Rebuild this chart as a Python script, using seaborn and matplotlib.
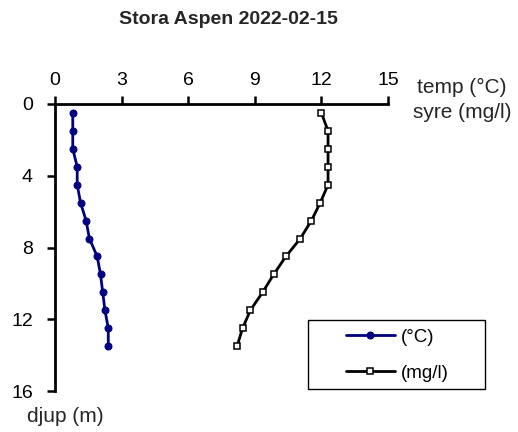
import numpy as np
import pandas as pd
import matplotlib.pyplot as plt
import seaborn as sns
from matplotlib.patches import Rectangle

depth = [0.5, 1.5, 2.5, 3.5, 4.5, 5.5, 6.5, 7.5, 8.5, 9.5, 10.5, 11.5, 12.5, 13.5]
temp = [0.8, 0.8, 0.8, 1.0, 1.0, 1.15, 1.4, 1.55, 1.9, 2.05, 2.15, 2.25, 2.4, 2.4]
oxygen = [12.0, 12.3, 12.3, 12.3, 12.3, 11.95, 11.55, 11.05, 10.4, 9.85, 9.35, 8.8, 8.45, 8.2]

df = pd.DataFrame({"djup": depth, "temp": temp, "syre": oxygen})

sns.set_style("white")
plt.rcParams["font.family"] = ["Liberation Sans", "DejaVu Sans"]

W, H = 518, 432
fig = plt.figure(figsize=(W / 100, H / 100), dpi=100)
ax = fig.add_axes([55 / W, 1 - 391 / H, 333 / W, 287 / H])

sns.lineplot(data=df, x="temp", y="djup", orient="y", sort=False, ax=ax,
             color="#000080", marker="o", markersize=5, markeredgecolor="#000080",
             linewidth=2, label="(°C)")
sns.lineplot(data=df, x="syre", y="djup", orient="y", sort=False, ax=ax,
             color="black", marker="s", markersize=5, markerfacecolor="white",
             markeredgecolor="black", markeredgewidth=1.1, linewidth=2, label="(mg/l)")

ax.set_xlim(0, 15)
ax.set_ylim(16, 0)
ax.set_xticks([0, 3, 6, 9, 12, 15])
ax.set_yticks([0, 4, 8, 12, 16])
ax.xaxis.tick_top()
ax.tick_params(axis="both", which="both", direction="out", length=6, width=1.8,
               labelsize=14, colors="black", top=True, left=True, bottom=False, right=False)
ax.tick_params(axis="x", pad=5)
ax.tick_params(axis="y", pad=10)
for side in ["right", "bottom"]:
    ax.spines[side].set_visible(False)
for side in ["top", "left"]:
    ax.spines[side].set_visible(True)
    ax.spines[side].set_linewidth(2)
    ax.spines[side].set_color("black")
ax.set_xlabel("")
ax.set_ylabel("")

fig.text(228 / W, 1 - 20 / H, "Stora Aspen 2022-02-15", ha="center", va="center",
         fontsize=14, fontweight="bold")
fig.text(462 / W, 1 - 100 / H, "temp (°C)\nsyre (mg/l)", ha="center", va="center",
         fontsize=15, linespacing=1.4)
fig.text(65 / W, 1 - 416 / H, "djup (m)", ha="center", va="center", fontsize=15)

# legend box drawn as a plain frame, entries placed inside it
ax.add_patch(Rectangle((308 / W, 1 - 389 / H), 177 / W, 69 / H,
                       transform=fig.transFigure, facecolor="white", clip_on=False,
                       edgecolor="black", linewidth=1.0, zorder=4))
leg = ax.legend(loc="center left", bbox_to_anchor=(346 / W, 1 - 355 / H),
                bbox_transform=fig.transFigure, frameon=False,
                fontsize=13.5, handlelength=2.6, handletextpad=0.3,
                borderpad=0, labelspacing=1.0, borderaxespad=0)
leg.set_zorder(6)
for t in leg.get_texts():
    t.set_color("black")

fig.savefig("out.png", dpi=100, facecolor="white")
